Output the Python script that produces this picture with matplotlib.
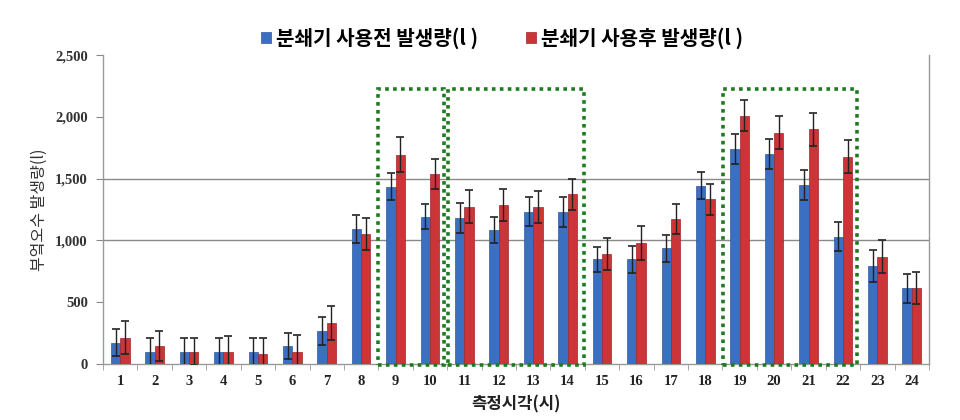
import matplotlib
matplotlib.use("Agg")
import matplotlib.pyplot as plt
from matplotlib.patches import Rectangle
import numpy as np

hours = [str(h) for h in range(1, 25)]
before = [172, 95, 95, 95, 95, 146, 270, 1092, 1434, 1192, 1179, 1084, 1232, 1227,
          847, 847, 936, 1443, 1739, 1699, 1448, 1030, 793, 612]
before_err = [110, 113, 113, 113, 113, 107, 113, 111, 109, 102, 121, 108, 116, 121,
              102, 108, 108, 110, 122, 121, 122, 116, 129, 116]
after = [213, 146, 100, 100, 83, 95, 334, 1052, 1694, 1537, 1273, 1286, 1273, 1373,
         890, 981, 1171, 1332, 2009, 1872, 1899, 1677, 868, 612]
after_err = [135, 124, 110, 125, 125, 140, 138, 127, 140, 124, 135, 130, 129, 124,
             127, 136, 123, 124, 127, 134, 135, 135, 135, 130]
labels = ["분쇄기 사용전 발생량(l )", "분쇄기 사용후 발생량(l )"]
boxes = [(8.48, 10.41), (10.53, 14.48), (18.52, 22.42)]
box_top = 2228

plt.rcParams['font.family'] = ['Noto Sans CJK KR', 'DejaVu Sans']

fig = plt.figure(figsize=(9.6, 4.2), dpi=100)
ax = fig.add_axes([0.1073, 0.1333, 0.8604, 0.7357])

x = np.arange(1, 25)
w = 0.27
blue = '#3b6fc2'
red = '#cc3538'
eb = dict(ecolor='#222222', elinewidth=1.0, capsize=3, capthick=1.2)
ax.bar(x - w / 2, before, w, color=blue, edgecolor='#2f5a9e', linewidth=0.5,
       yerr=before_err, error_kw=eb, label=labels[0], zorder=3)
ax.bar(x + w / 2, after, w, color=red, edgecolor='#a02628', linewidth=0.5,
       yerr=after_err, error_kw=eb, label=labels[1], zorder=3)

for x0, x1 in boxes:
    ax.add_patch(Rectangle((x0, -5), x1 - x0, box_top + 5, fill=False,
                           edgecolor='#1f7a1f', linestyle=(0, (1, 1.2)),
                           linewidth=2.6, zorder=4, clip_on=False))

ax.set_xlim(0.5, 24.5)
ax.set_ylim(0, 2500)
for g in (1000, 1500):
    ax.axhline(g, color='#8a8a8a', linewidth=1.0, zorder=1)

ax.set_yticks([0, 500, 1000, 1500, 2000, 2500])
ax.set_yticklabels(['0', '500', '1,000', '1,500', '2,000', '2,500'],
                   fontfamily='Liberation Serif', fontsize=10.5, fontweight='bold',
                   color='#333333')
ax.set_xticks(x)
ax.set_xticklabels(hours, fontfamily='Liberation Serif', fontsize=10.5,
                   fontweight='bold', color='#222222')
ax.set_xticks(np.arange(0.5, 25, 1), minor=True)
ax.tick_params(axis='x', which='major', length=0, pad=8)
ax.tick_params(axis='x', which='minor', length=4, color='#999999')
ax.tick_params(axis='y', length=5, color='#888888', pad=6)

for s in ('left', 'bottom', 'right'):
    ax.spines[s].set_color('#999999')
    ax.spines[s].set_linewidth(1.0)
ax.spines['top'].set_visible(False)

ax.set_ylabel('부엌오수 발생량(l)', fontsize=11.5, color='#333333', labelpad=5)
ax.set_xlabel('측정시각(시)', fontsize=12, fontweight='bold', color='#222222', labelpad=5)

fig.legend(loc='center', bbox_to_anchor=(0.523, 0.9095), ncol=2, frameon=False,
           handlelength=0.5, handleheight=0.5, handletextpad=0.25, columnspacing=2.4,
           prop={'family': ['Noto Sans CJK KR', 'DejaVu Sans'], 'size': 14.5,
                 'weight': 'bold'})

fig.savefig('out.png', dpi=100)
